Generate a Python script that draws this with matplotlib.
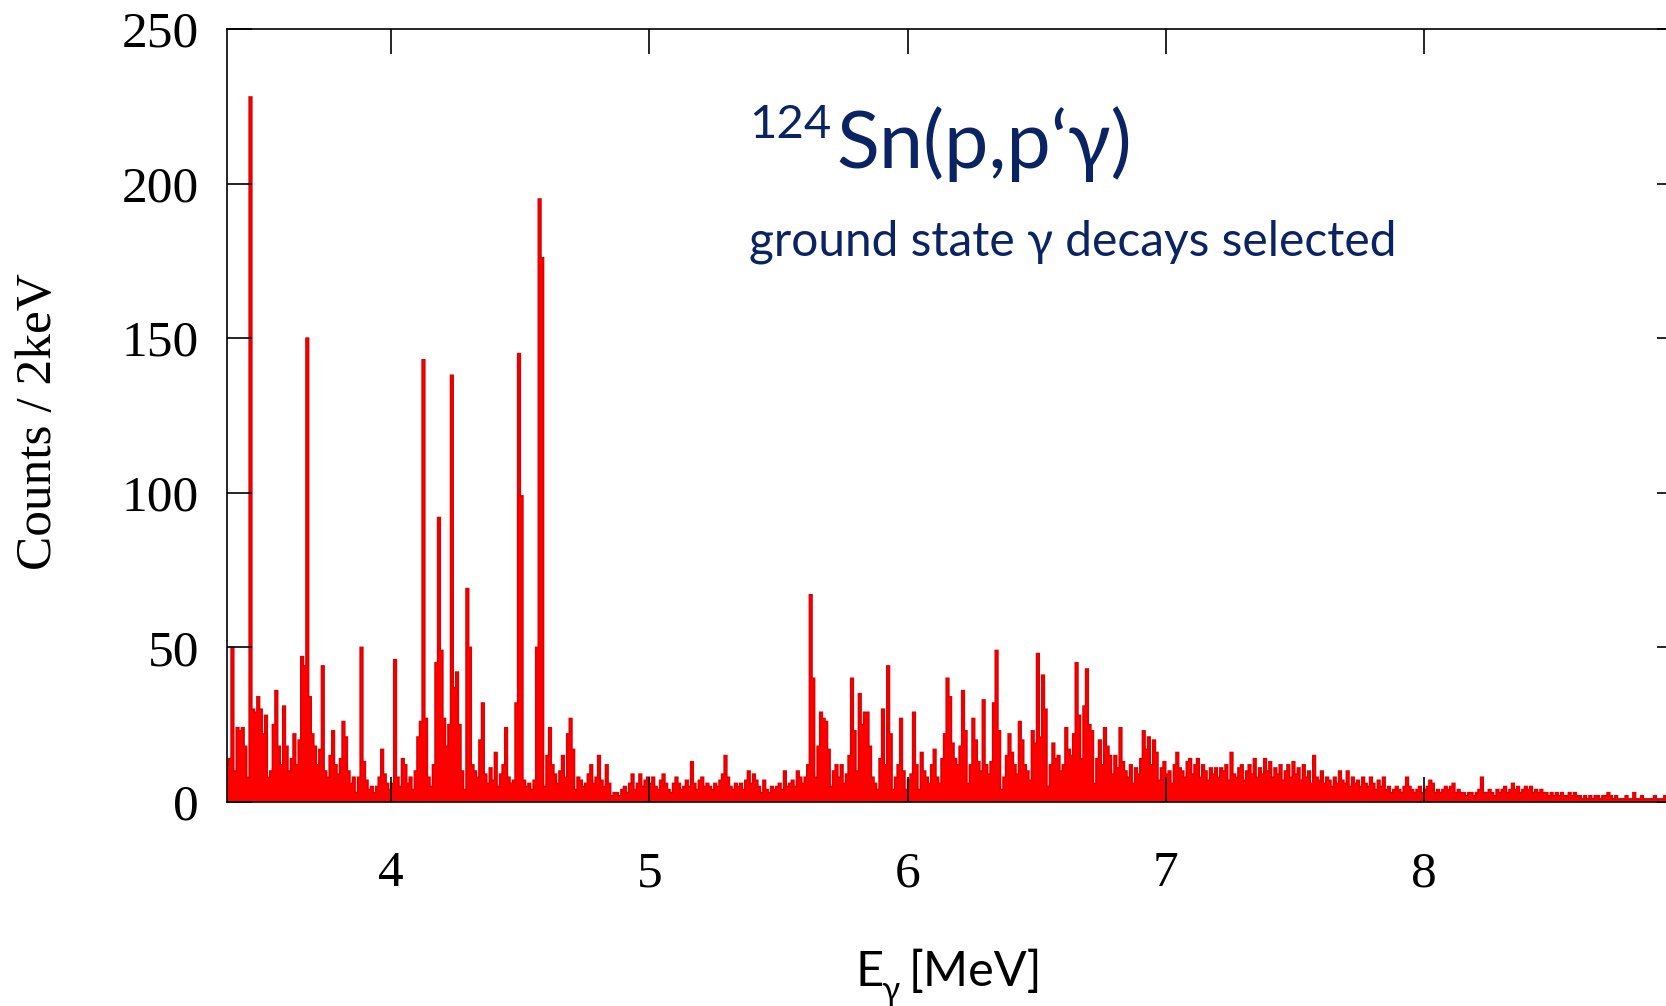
import matplotlib
matplotlib.use('Agg')
import matplotlib.pyplot as plt
import numpy as np

# gamma spectrum in 10 keV bins starting at 3.36 MeV
bin_start = 3.36
bin_width = 0.01

counts_3 = [12, 14, 50, 10,                              # 3.36 - 3.39
            24, 23, 24, 18, 8, 228, 30, 29, 34, 30,      # 3.40
            22, 28, 8, 10, 25, 36, 18, 12, 31, 18,       # 3.50
            10, 14, 22, 12, 20, 47, 44, 150, 34, 22,     # 3.60
            18, 12, 17, 44, 10, 8, 15, 23, 12, 9,        # 3.70
            14, 26, 21, 10, 6, 8, 3, 8, 50, 13,          # 3.80
            7, 4, 5, 3, 5, 8, 17, 9, 6, 4]               # 3.90
counts_4 = [6, 46, 8, 5, 14, 12, 6, 8, 4, 10,
            21, 26, 143, 27, 8, 5, 12, 45, 92, 49,
            27, 18, 25, 138, 37, 42, 25, 10, 4, 69,
            50, 12, 10, 8, 20, 32, 9, 6, 11, 7,
            16, 5, 9, 12, 24, 8, 6, 7, 32, 145,
            99, 7, 5, 6, 4, 7, 50, 195, 176, 5,
            15, 24, 12, 9, 6, 10, 15, 8, 22, 27,
            17, 4, 8, 7, 5, 6, 9, 12, 6, 8,
            15, 7, 5, 12, 6, 2, 3, 3, 2, 4,
            5, 3, 6, 9, 4, 6, 9, 5, 7, 8]
counts_5 = [6, 8, 5, 4, 7, 9, 6, 4, 3, 6,
            8, 6, 4, 5, 7, 5, 13, 6, 4, 7,
            8, 5, 6, 5, 4, 6, 5, 7, 9, 15,
            8, 5, 4, 6, 5, 6, 4, 7, 10, 6,
            9, 7, 5, 3, 7, 4, 3, 5, 4, 5,
            6, 4, 10, 5, 6, 7, 5, 10, 8, 6,
            8, 12, 67, 40, 8, 18, 29, 27, 26, 17,
            5, 10, 12, 8, 12, 6, 9, 15, 40, 23,
            10, 35, 25, 29, 29, 18, 8, 6, 4, 14,
            30, 12, 44, 22, 4, 8, 12, 27, 10, 4]
counts_6 = [7, 9, 29, 12, 4, 16, 10, 8, 6, 12,
            17, 8, 6, 14, 22, 40, 34, 19, 14, 12,
            18, 36, 23, 6, 12, 27, 20, 13, 10, 33,
            12, 9, 13, 32, 49, 23, 4, 8, 15, 22,
            16, 12, 9, 26, 20, 12, 10, 7, 23, 19,
            48, 21, 41, 30, 5, 12, 19, 14, 15, 10,
            12, 24, 17, 15, 22, 45, 28, 14, 31, 43,
            25, 23, 6, 14, 20, 12, 24, 18, 15, 9,
            15, 11, 24, 13, 10, 8, 12, 6, 11, 9,
            14, 23, 17, 21, 12, 20, 16, 7, 11, 13]
counts_7 = [9, 10, 6, 12, 16, 11, 10, 8, 13, 14,
            9, 12, 14, 8, 12, 10, 7, 11, 9, 11,
            8, 11, 10, 12, 7, 16, 9, 8, 11, 12,
            7, 10, 12, 9, 14, 8, 11, 9, 14, 10,
            13, 8, 11, 9, 12, 7, 10, 12, 8, 13,
            9, 11, 7, 12, 8, 10, 6, 15, 8, 7,
            10, 6, 8, 7, 5, 8, 6, 10, 7, 6,
            10, 5, 8, 6, 7, 5, 8, 6, 5, 8,
            6, 4, 7, 5, 8, 4, 5, 3, 4, 5,
            4, 3, 5, 8, 5, 4, 3, 4, 5, 3]
counts_8 = [4, 5, 7, 6, 3, 4, 3, 4, 5, 4,
            5, 6, 3, 4, 3, 3, 2, 3, 3, 2,
            3, 4, 8, 3, 3, 4, 3, 2, 4, 3,
            4, 5, 3, 4, 6, 4, 5, 3, 4, 5,
            4, 5, 3, 4, 3, 4, 3, 3, 2, 3,
            2, 3, 2, 3, 2, 2, 3, 2, 3, 2,
            2, 1, 2, 1, 2, 1, 2, 2, 1, 2,
            2, 3, 2, 1, 2, 1, 1, 1, 2, 1,
            1, 3, 1, 1, 2, 1, 1, 1, 1, 2,
            1, 1, 1, 2, 1, 1, 1, 1, 1, 1]

x_ticks = [4, 5, 6, 7, 8]
y_ticks = [0, 50, 100, 150, 200, 250]

counts = np.concatenate([counts_3, counts_4, counts_5, counts_6, counts_7, counts_8])
edges = bin_start + bin_width * np.arange(len(counts) + 1)

navy = '#0a2463'
serif = 'Liberation Serif'
sans = 'Lato'

fig = plt.figure(figsize=(16.66, 10.06), dpi=100)
# axes runs a little past the right edge of the figure, as in the original slide
ax = fig.add_axes([227 / 1666, 204 / 1006, 1455 / 1666, 773 / 1006])

ax.stairs(counts, edges, fill=True, color='#ff0000', linewidth=0)
ax.stairs(counts, edges, color='#e00000', linewidth=1.2)

ax.set_xlim(3.364, 9.0)
ax.set_ylim(0, 250)
ax.set_xticks(x_ticks)
ax.set_yticks(y_ticks)
ax.tick_params(direction='in', length=18, width=1.2, top=True, right=True,
               labelsize=37)
ax.tick_params(axis='x', pad=35)
ax.tick_params(axis='y', pad=20)
for lab in ax.get_xticklabels() + ax.get_yticklabels():
    lab.set_family(serif)
for sp in ax.spines.values():
    sp.set_linewidth(1.2)

fig.text(39 / 1666, 1 - 422 / 1006, 'Counts / 2keV', rotation=90, family=serif,
         fontsize=37, ha='center', va='center')

# x label: E with gamma subscript
fig.text(855 / 1666, 1 - 986 / 1006, 'E', family=sans, fontsize=35, color='black',
         ha='left', va='baseline')
fig.text(881 / 1666, 1 - 1000 / 1006, 'γ', family=sans, fontsize=24, color='black',
         ha='left', va='baseline')
fig.text(909 / 1666, 1 - 986 / 1006, '[MeV]', family=sans, fontsize=35, color='black',
         ha='left', va='baseline')

# reaction label
fig.text(749 / 1666, 1 - 104 / 1006, '124', family=sans, fontsize=34, color=navy,
         ha='left', va='top')
fig.text(836 / 1666, 1 - 168 / 1006, 'Sn(p,p‘γ)', family=sans, fontsize=57, color=navy,
         ha='left', va='baseline')
fig.text(749 / 1666, 1 - 255 / 1006, 'ground state γ decays selected', family=sans,
         fontsize=34.5, color=navy, ha='left', va='baseline')

fig.savefig('out.png', dpi=100, facecolor='white')
